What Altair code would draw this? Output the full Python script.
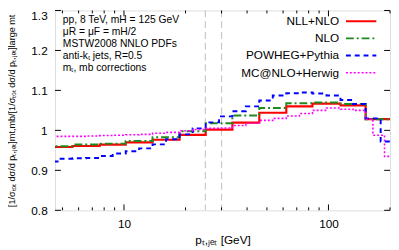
import altair as alt
import pandas as pd

# ---------------- data ----------------
# bin edges (GeV) of the NLL+NLO and NLO histograms
edges_main = [4.1, 5.6, 7.6, 10.2, 13.8, 18.7, 25.1, 33.9, 45.9, 62.2, 83.5, 114.5, 152.0, 207.0]
nll_nlo = [0.9585, 0.961, 0.9644, 0.970, 0.9766, 0.9888, 1.002, 1.0195, 1.044, 1.060, 1.0668, 1.0627, 1.028]
nlo = [0.9602, 0.9644, 0.9668, 0.9732, 0.983, 0.9976, 1.018, 1.037, 1.056, 1.068, 1.070, 1.066, 1.028]

# finer binning of the shower Monte Carlo curves
edges_powheg = [4.1, 4.79, 5.6, 6.52, 7.6, 8.8, 10.2, 11.86, 13.8, 16.06, 18.7, 21.67, 25.1,
                29.17, 33.9, 39.45, 45.9, 53.43, 62.2, 72.07, 83.5, 97.78, 114.5, 131.9, 152.0,
                180.0, 207.0]
powheg = [0.922, 0.929, 0.930, 0.931, 0.936, 0.942, 0.948, 0.955, 0.965, 0.978, 0.990, 1.005,
          1.020, 1.035, 1.048, 1.060, 1.075, 1.087, 1.093, 1.095, 1.092, 1.087, 1.076, 1.066,
          1.030, 0.972]

edges_mcnlo = [4.1, 4.79, 5.6, 6.52, 7.6, 8.8, 10.2, 11.86, 13.8, 16.06, 18.7, 21.67, 25.1,
               29.17, 33.9, 39.45, 45.9, 53.43, 62.2, 72.07, 83.5, 97.78, 114.5, 131.9, 152.0,
               165.0, 188.0, 207.0]
mcnlo = [0.985, 0.985, 0.985, 0.986, 0.987, 0.988, 0.989, 0.990, 0.993, 0.995, 0.999, 1.002,
         1.005, 1.006, 1.012, 1.018, 1.025, 1.030, 1.036, 1.042, 1.050, 1.056, 1.053, 1.050,
         1.028, 0.988, 0.935]

series_names = ["NLL+NLO", "NLO", "POWHEG+Pythia", "MC@NLO+Herwig"]
series_colors = ["#ff0000", "#1f8a1f", "#0000ff", "#ff00ff"]
series_dash = [[1, 0], [8, 3, 2, 3], [5, 4], [2, 2]]
series_width = [2.2, 2.0, 2.0, 1.6]

cut_lines = [25, 30]
x_major = [10, 100]
x_minor = [5, 6, 7, 8, 9, 20, 30, 40, 50, 60, 70, 80, 90, 200]
y_ticks = [0.8, 0.9, 1.0, 1.1, 1.2, 1.3]

notes = ["pp, 8 TeV, mH = 125 GeV",
         "μR = μF  = mH/2",
         "MSTW2008 NNLO PDFs",
         "anti-kₜ jets, R=0.5",
         "mₜ, mb corrections"]

# ---------------- layout ----------------
W, H = 342, 204
FONT = "Liberation Sans"

xs = alt.Scale(type="log", domain=[4.6, 200], nice=False)
ys = alt.Scale(domain=[0.8, 1.3], nice=False, zero=False)


def step_df(edges, vals):
    xv = list(edges[:-1]) + [edges[-1]]
    yv = list(vals) + [vals[-1]]
    return pd.DataFrame({"pt": xv, "r": yv})


x_axis = alt.Axis(values=x_major, format=".0f", ticks=False, tickSize=0, domain=False, grid=False,
                  labelPadding=9, labelFont=FONT, labelFontSize=12, labelColor="black",
                  title="pₜ,ⱼₑₜ [GeV]", titleFont=FONT, titleFontSize=12, titleFontWeight="normal",
                  titleColor="black", titleX=W / 2, titleY=30, titleBaseline="middle",
                  titleAlign="center")
y_axis = alt.Axis(values=y_ticks, format=".1~f", ticks=False, tickSize=0, domain=False, grid=False,
                  labelPadding=8, labelFont=FONT, labelFontSize=12, labelColor="black",
                  labelOffset={"condition": {"test": "datum.value > 1.25", "value": 5}, "value": 0},
                  title="[1/σₜₒₜ dσ/d pₜ,ⱼₑₜ]mt,mb/[1/σₜₒₜ dσ/d pₜ,ⱼₑₜ]large mt",
                  titleFont=FONT, titleFontSize=9.3, titleFontWeight="normal", titleColor="black",
                  titleAngle=270, titleX=-44, titleY=H / 2, titleAlign="center",
                  titleBaseline="middle")

X = lambda: alt.X("pt:Q", scale=xs, axis=x_axis)
Y = lambda: alt.Y("r:Q", scale=ys, axis=y_axis)

layers = []

# vertical dashed cut lines
layers.append(
    alt.Chart(pd.DataFrame({"pt": cut_lines})).mark_rule(
        color="#c8c8c8", strokeWidth=1.2, strokeDash=[7, 4]
    ).encode(x=X())
)

series_data = [(edges_main, nll_nlo), (edges_main, nlo), (edges_powheg, powheg), (edges_mcnlo, mcnlo)]
for i, (e, v) in enumerate(series_data):
    layers.append(
        alt.Chart(step_df(e, v)).mark_line(
            interpolate="step-after", color=series_colors[i], strokeWidth=series_width[i],
            strokeDash=series_dash[i], clip=True
        ).encode(x=X(), y=Y())
    )

# inward ticks (bottom/top, major/minor) and left/right
for vals, ln in [(x_major, 6), (x_minor, 3)]:
    df = pd.DataFrame({"pt": vals})
    layers.append(alt.Chart(df).mark_rule(color="black", strokeWidth=1).encode(
        x=X(), y=alt.value(H), y2=alt.value(H - ln)))
    layers.append(alt.Chart(df).mark_rule(color="black", strokeWidth=1).encode(
        x=X(), y=alt.value(0), y2=alt.value(ln)))
dfy = pd.DataFrame({"r": y_ticks})
layers.append(alt.Chart(dfy).mark_rule(color="black", strokeWidth=1).encode(
    y=Y(), x=alt.value(0), x2=alt.value(6)))
layers.append(alt.Chart(dfy).mark_rule(color="black", strokeWidth=1).encode(
    y=Y(), x=alt.value(W), x2=alt.value(W - 6)))

# annotation block (top left)
layers.append(
    alt.Chart(pd.DataFrame({"k": [0]})).mark_text(
        align="left", baseline="top", font=FONT, fontSize=10.5, lineHeight=12.3, color="black"
    ).encode(x=alt.value(8), y=alt.value(4.5), text=alt.value(notes))
)

# legend (label right-aligned, sample line to the right)
leg_y = [11, 28.5, 46, 63.5]
for i, name in enumerate(series_names):
    ldf = pd.DataFrame({"name": [name]})
    layers.append(alt.Chart(ldf).mark_text(
        align="right", baseline="middle", font=FONT, fontSize=12, color="black"
    ).encode(x=alt.value(290), y=alt.value(leg_y[i]), text="name:N"))
    layers.append(alt.Chart(ldf).mark_rule(
        color=series_colors[i], strokeWidth=series_width[i], strokeDash=series_dash[i]
    ).encode(x=alt.value(297), x2=alt.value(328), y=alt.value(leg_y[i])))

chart = alt.layer(*layers).properties(
    width=W, height=H,
    autosize=alt.AutoSizeParams(type="none"),
    padding={"left": 48, "top": 0, "right": 1, "bottom": 38},
).configure_view(stroke="black", strokeWidth=1).configure(background="white")

chart.save("out.html", embed_options={"renderer": "svg", "actions": False})
